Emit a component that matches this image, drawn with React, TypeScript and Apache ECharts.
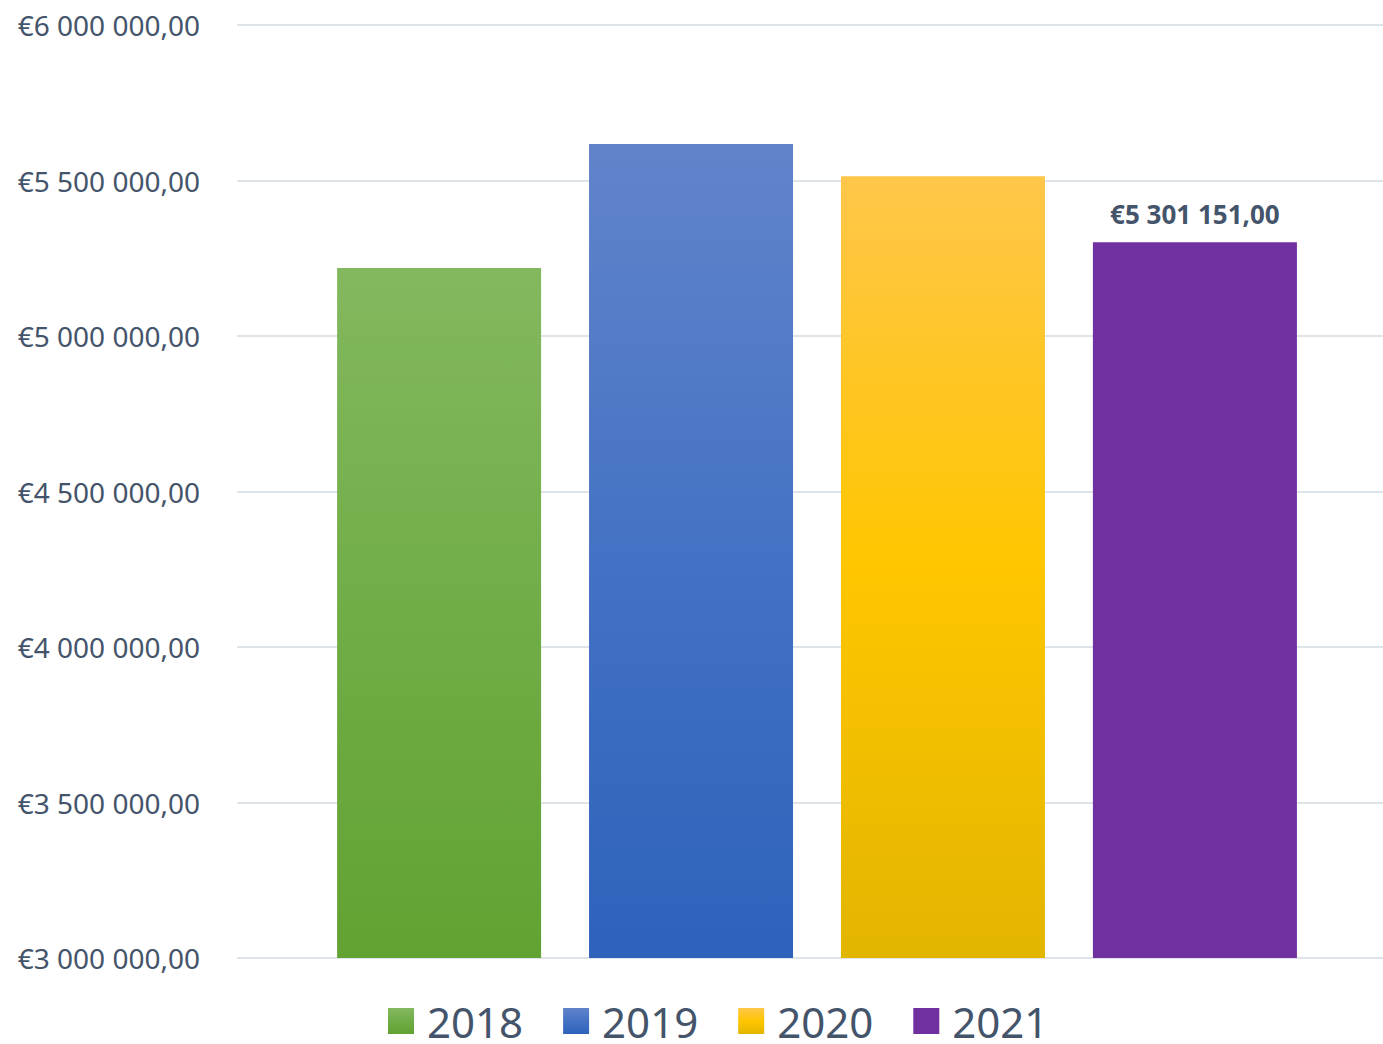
import React, { useEffect, useRef } from "react";
import * as echarts from "echarts";

const categories = [""];
const seriesNames = ["2018", "2019", "2020", "2021"];
const values2018 = [5219000];
const values2019 = [5617000];
const values2020 = [5514000];
const values2021 = [5301151];
const yTicks = { min: 3000000, max: 6000000, interval: 500000 };

const TEXT = "#44546a";
const FONT = "'Noto Sans', sans-serif";

function fmt(v: number): string {
  const intPart = Math.floor(v).toString().replace(/\B(?=(\d{3})+(?!\d))/g, " ");
  return "€" + intPart + ",00";
}

function grad(top: string, mid: string, bottom: string) {
  return new echarts.graphic.LinearGradient(0, 0, 0, 1, [
    { offset: 0, color: top },
    { offset: 0.5, color: mid },
    { offset: 1, color: bottom },
  ]);
}

export default function App() {
  const ref = useRef<HTMLDivElement>(null);
  useEffect(() => {
    if (!ref.current) return;
    const chart = echarts.init(ref.current, undefined, { renderer: "svg" });
    const colors = [
      grad("#84b85f", "#70ad47", "#62a232"),
      grad("#6184cb", "#4472c4", "#2e62bb"),
      grad("#ffc64a", "#ffc600", "#e2b500"),
      "#7030a0",
    ];
    const data = [values2018, values2019, values2020, values2021];
    chart.setOption({
      animation: false,
      grid: [
        { left: 237, right: 0, top: 25, bottom: 86, containLabel: false },
        { left: 251, right: 0, top: 25, bottom: 86, containLabel: false },
      ],
      legend: {
        bottom: 0,
        left: 383,
        padding: [5, 5, 2, 5],
        itemWidth: 26,
        itemHeight: 26,
        itemGap: 40,
        icon: "rect",
        textStyle: {
          color: TEXT,
          fontSize: 42,
          lineHeight: 40,
          fontFamily: FONT,
          padding: [0, 0, 0, 8],
        },
        data: seriesNames,
      },
      xAxis: [
        {
          type: "category",
          gridIndex: 0,
          data: categories,
          show: false,
        },
        {
          type: "category",
          gridIndex: 1,
          data: categories,
          axisLine: { show: false },
          axisTick: { show: false },
          axisLabel: { show: false },
        },
      ],
      yAxis: [
        {
          type: "value",
          gridIndex: 0,
          min: yTicks.min,
          max: yTicks.max,
          interval: yTicks.interval,
          axisLine: { show: false },
          axisTick: { show: false },
          splitLine: { lineStyle: { color: "#dfe3ea", width: 2 } },
          axisLabel: {
            color: TEXT,
            fontSize: 28,
            fontFamily: FONT,
            margin: 37,
            formatter: (v: number) => fmt(v),
          },
        },
        {
          type: "value",
          gridIndex: 1,
          min: yTicks.min,
          max: yTicks.max,
          interval: yTicks.interval,
          show: false,
          splitLine: { show: false },
        },
      ],
      series: seriesNames.map((name, i) => ({
        name,
        type: "bar",
        xAxisIndex: 1,
        yAxisIndex: 1,
        data: data[i],
        barWidth: 204,
        barGap: "23.5%",
        itemStyle: { color: colors[i] },
        label:
          i === 3
            ? {
                show: true,
                position: "top",
                distance: 15,
                color: TEXT,
                fontSize: 26,
                fontWeight: "bold",
                fontFamily: FONT,
                formatter: (p: any) => fmt(p.value),
              }
            : { show: false },
      })),
    });
    return () => chart.dispose();
  }, []);
  return (
    <div
      ref={ref}
      style={{ position: "absolute", left: 0, top: 0, width: 1383, height: 1044 }}
    />
  );
}
